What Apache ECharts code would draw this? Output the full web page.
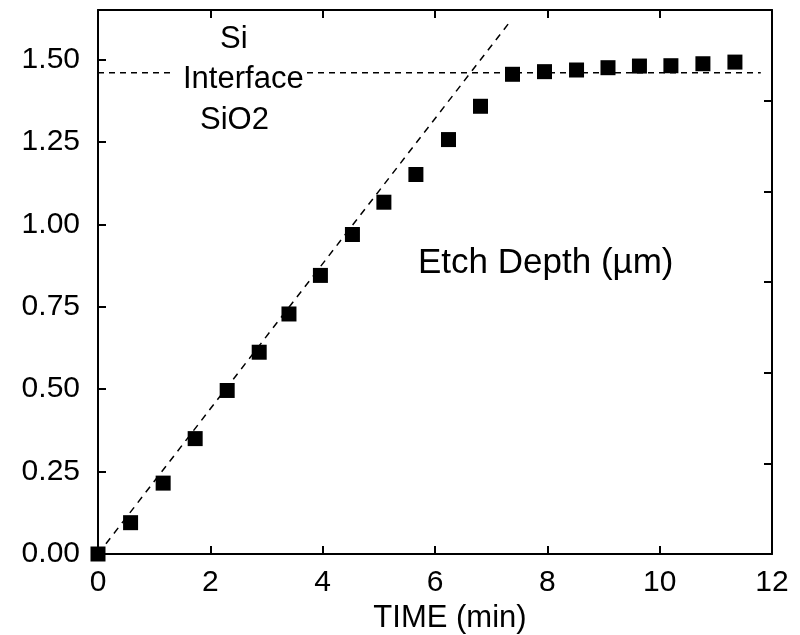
<!DOCTYPE html>
<html>
<head>
<meta charset="utf-8">
<script src="https://cdn.jsdelivr.net/npm/echarts@6/dist/echarts.min.js"></script>
<style>
  html, body { margin: 0; padding: 0; background: #fff; }
  #chart { width: 800px; height: 635px; }
</style>
</head>
<body>
<div id="chart"></div>
<script>
// Etch time (min) and measured etch depth (µm)
const etchTime = [0, 0.58, 1.16, 1.73, 2.30, 2.87, 3.40, 3.96, 4.53, 5.09, 5.66,
                  6.24, 6.81, 7.38, 7.95, 8.52, 9.08, 9.64, 10.20, 10.77, 11.34];
const etchDepth = [0.00, 0.095, 0.215, 0.350, 0.496, 0.612, 0.728, 0.845, 0.969, 1.067, 1.151,
                   1.257, 1.358, 1.455, 1.463, 1.468, 1.475, 1.480, 1.481, 1.487, 1.492];

// Linear etch-rate fit (start and end points) and the Si / SiO2 interface depth
const fitTime = [0, 7.36];
const fitDepth = [0, 1.62];
const interfaceDepth = 1.46;
const interfaceSpan = [0, 11.8];

// Axis ticks
const xTicks = [0, 2, 4, 6, 8, 10, 12];
const yTicks = [0, 0.25, 0.5, 0.75, 1.0, 1.25, 1.5];

const FONT = 'Liberation Sans, Arial, Helvetica, sans-serif';

const chart = echarts.init(document.getElementById('chart'), null, { renderer: 'canvas' });

const axisLine = { show: true, onZero: false, lineStyle: { color: '#000', width: 2 } };
const innerTick = { show: true, inside: true, length: 8, lineStyle: { color: '#000', width: 2 } };

chart.setOption({
  backgroundColor: '#fff',
  animation: false,
  grid: { left: 98, right: 28, top: 10, bottom: 81, containLabel: false, outerBoundsMode: 'none' },
  xAxis: [
    {
      type: 'value', position: 'bottom',
      min: xTicks[0], max: xTicks[xTicks.length - 1], interval: 2,
      axisLine: axisLine, axisTick: innerTick, splitLine: { show: false },
      axisLabel: { color: '#000', fontSize: 30, fontFamily: FONT, margin: 14 },
      name: 'TIME (min)', nameLocation: 'middle', nameGap: 46,
      nameTextStyle: { color: '#000', fontSize: 31, fontFamily: FONT, padding: [0, 0, 0, 30] }
    },
    {
      type: 'value', position: 'top',
      min: xTicks[0], max: xTicks[xTicks.length - 1], interval: 2,
      axisLine: axisLine, axisTick: innerTick, splitLine: { show: false },
      axisLabel: { show: false }
    }
  ],
  yAxis: [
    {
      type: 'value', position: 'left',
      min: 0, max: 1.65, interval: 0.25,
      axisLine: axisLine, axisTick: innerTick, splitLine: { show: false },
      axisLabel: {
        color: '#000', fontSize: 30, fontFamily: FONT, margin: 18, showMaxLabel: false,
        formatter: v => (yTicks.indexOf(+v.toFixed(2)) >= 0 ? v.toFixed(2) : '')
      }
    },
    {
      type: 'value', position: 'right',
      min: 0, max: 6, interval: 1,
      axisLine: axisLine, axisTick: innerTick, splitLine: { show: false },
      axisLabel: { show: false }
    }
  ],
  series: [
    {
      name: 'interface', type: 'line', xAxisIndex: 0, yAxisIndex: 0,
      data: interfaceSpan.map(t => [t, interfaceDepth]),
      symbol: 'none', silent: true, z: 1,
      lineStyle: { color: '#000', width: 1.5, type: [6, 5] }
    },
    {
      name: 'fit', type: 'line', xAxisIndex: 0, yAxisIndex: 0,
      data: fitTime.map((t, i) => [t, fitDepth[i]]),
      symbol: 'none', silent: true, z: 1,
      lineStyle: { color: '#000', width: 1.5, type: [7, 6] }
    },
    {
      name: 'Etch Depth', type: 'scatter', xAxisIndex: 0, yAxisIndex: 0,
      data: etchTime.map((t, i) => [t, etchDepth[i]]),
      symbol: 'rect', symbolSize: 15, z: 5,
      itemStyle: { color: '#000', opacity: 1 }
    }
  ],
  graphic: [
    { type: 'text', left: 220, top: 24, z: 10,
      style: { text: 'Si', font: '31px ' + FONT, fill: '#000' } },
    { type: 'text', left: 172, top: 64, z: 10,
      style: { text: 'Interface', font: '31px ' + FONT, fill: '#000',
               backgroundColor: '#fff', padding: [0, 0, 0, 11] } },
    { type: 'text', left: 200, top: 105, z: 10,
      style: { text: 'SiO2', font: '31px ' + FONT, fill: '#000' } },
    { type: 'text', left: 418, top: 246, z: 10,
      style: { text: 'Etch Depth (\u00b5m)', font: '35px ' + FONT, fill: '#000' } }
  ]
});
</script>
</body>
</html>
